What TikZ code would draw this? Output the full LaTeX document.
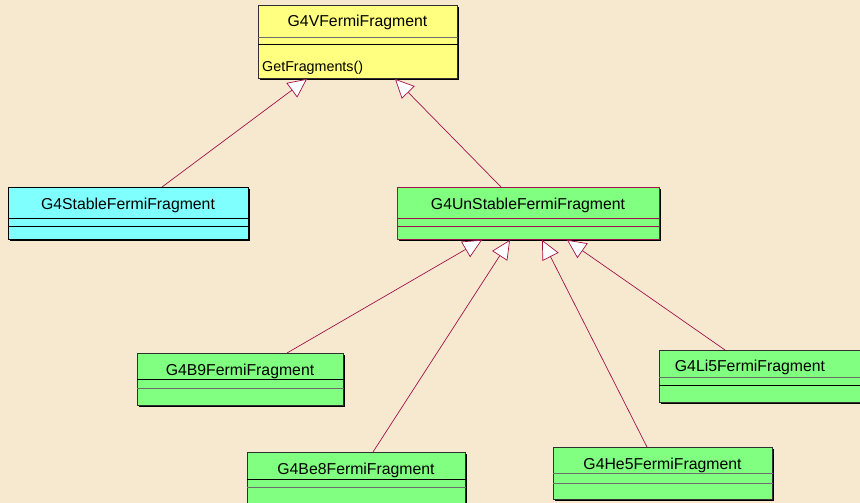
\documentclass[tikz,border=0pt]{standalone}
\usepackage{fontspec}
\setmainfont{Liberation Sans}
\usetikzlibrary{arrows.meta,calc,shadows}
\definecolor{paper}{HTML}{F6E9D0}
\definecolor{umlyellow}{HTML}{FFFF80}
\definecolor{umlcyan}{HTML}{80FFFF}
\definecolor{umlgreen}{HTML}{80FF80}
\definecolor{assoc}{HTML}{A3124A}
\definecolor{edge}{HTML}{303030}
\tikzset{
  classbox/.style={draw=edge, line width=0.9pt, inner sep=0pt, anchor=north west,
    drop shadow={shadow xshift=1.2pt, shadow yshift=-1.2pt, fill=black, opacity=1}},
  classname/.style={anchor=base, inner sep=0pt, font=\fontsize{15.8}{18}\selectfont},
  opname/.style={anchor=base west, inner sep=0pt, font=\fontsize{14.3}{17}\selectfont},
  sep/.style={line width=0.8pt},
  inherit/.style={draw=assoc, line width=0.7pt,
    -{Triangle[fill=white, length=19pt, width=18pt, line width=0.7pt]}}
}
\begin{document}
\begin{tikzpicture}[x=1pt, y=-1pt]
\useasboundingbox[fill=paper] (0,0) rectangle (860,503);

% base class
\node[classbox, fill=umlyellow, minimum width=199pt, minimum height=73pt] (vff) at (258,5) {};
\node[classname] (vffT) at (357.5,27) {G4VFermiFragment};
\draw[sep, draw=edge!70] ($(vff.north west)+(0,32)$) -- ($(vff.north east)+(0,32)$);
\draw[sep] ($(vff.north west)+(0,39)$) -- ($(vff.north east)+(0,39)$);
\node[opname] (vffOp) at (262,71) {GetFragments()};

% stable fragment
\node[classbox, draw=black, fill=umlcyan, minimum width=240pt, minimum height=52pt] (sff) at (8,187) {};
\node[classname] (sffT) at (128,209) {G4StableFermiFragment};
\draw[sep] ($(sff.north west)+(0,31)$) -- ($(sff.north east)+(0,31)$);
\draw[sep] ($(sff.north west)+(0,39)$) -- ($(sff.north east)+(0,39)$);

% unstable fragment
\node[classbox, draw=assoc, fill=umlgreen, minimum width=262pt, minimum height=52pt] (uff) at (397,187) {};
\node[classname] (uffT) at (528,209) {G4UnStableFermiFragment};
\draw[sep, draw=assoc] ($(uff.north west)+(0,31)$) -- ($(uff.north east)+(0,31)$);
\draw[sep, draw=assoc] ($(uff.north west)+(0,39)$) -- ($(uff.north east)+(0,39)$);

% concrete unstable fragments
\node[classbox, fill=umlgreen, minimum width=206pt, minimum height=52pt] (b9) at (137,353) {};
\node[classname] (b9T) at (240,375) {G4B9FermiFragment};
\draw[sep] ($(b9.north west)+(0,26)$) -- ($(b9.north east)+(0,26)$);
\draw[sep, draw=edge!70] ($(b9.north west)+(0,35)$) -- ($(b9.north east)+(0,35)$);

\node[classbox, fill=umlgreen, minimum width=218pt, minimum height=70pt] (be8) at (247,452) {};
\node[classname] (be8T) at (356,474) {G4Be8FermiFragment};
\draw[sep] ($(be8.north west)+(0,27)$) -- ($(be8.north east)+(0,27)$);
\draw[sep, draw=edge!70] ($(be8.north west)+(0,35)$) -- ($(be8.north east)+(0,35)$);

\node[classbox, fill=umlgreen, minimum width=219pt, minimum height=52pt] (he5) at (553,447) {};
\node[classname] (he5T) at (662.5,469) {G4He5FermiFragment};
\draw[sep, draw=edge!70] ($(he5.north west)+(0,26)$) -- ($(he5.north east)+(0,26)$);
\draw[sep, draw=edge!70] ($(he5.north west)+(0,36)$) -- ($(he5.north east)+(0,36)$);

\node[classbox, fill=umlgreen, minimum width=220pt, minimum height=52pt] (li5) at (659,350) {};
\node[classname] (li5T) at (750,371) {G4Li5FermiFragment};
\draw[sep, draw=edge!70] ($(li5.north west)+(0,27)$) -- ($(li5.north east)+(0,27)$);
\draw[sep] ($(li5.north west)+(0,35)$) -- ($(li5.north east)+(0,35)$);

% generalisation links
\draw[inherit] ($(sff.north west)+(154,0)$) -- ($(vff.south west)+(49,0)$);
\draw[inherit] ($(uff.north west)+(104,0)$) -- ($(vff.south west)+(137,0)$);
\draw[inherit] ($(b9.north west)+(150,0)$) -- ($(uff.south west)+(85,0)$);
\draw[inherit] ($(be8.north west)+(126,0)$) -- ($(uff.south west)+(113,0)$);
\draw[inherit] ($(he5.north west)+(94,0)$) -- ($(uff.south west)+(145,0)$);
\draw[inherit] ($(li5.north west)+(66,0)$) -- ($(uff.south west)+(170,0)$);
\end{tikzpicture}
\end{document}
